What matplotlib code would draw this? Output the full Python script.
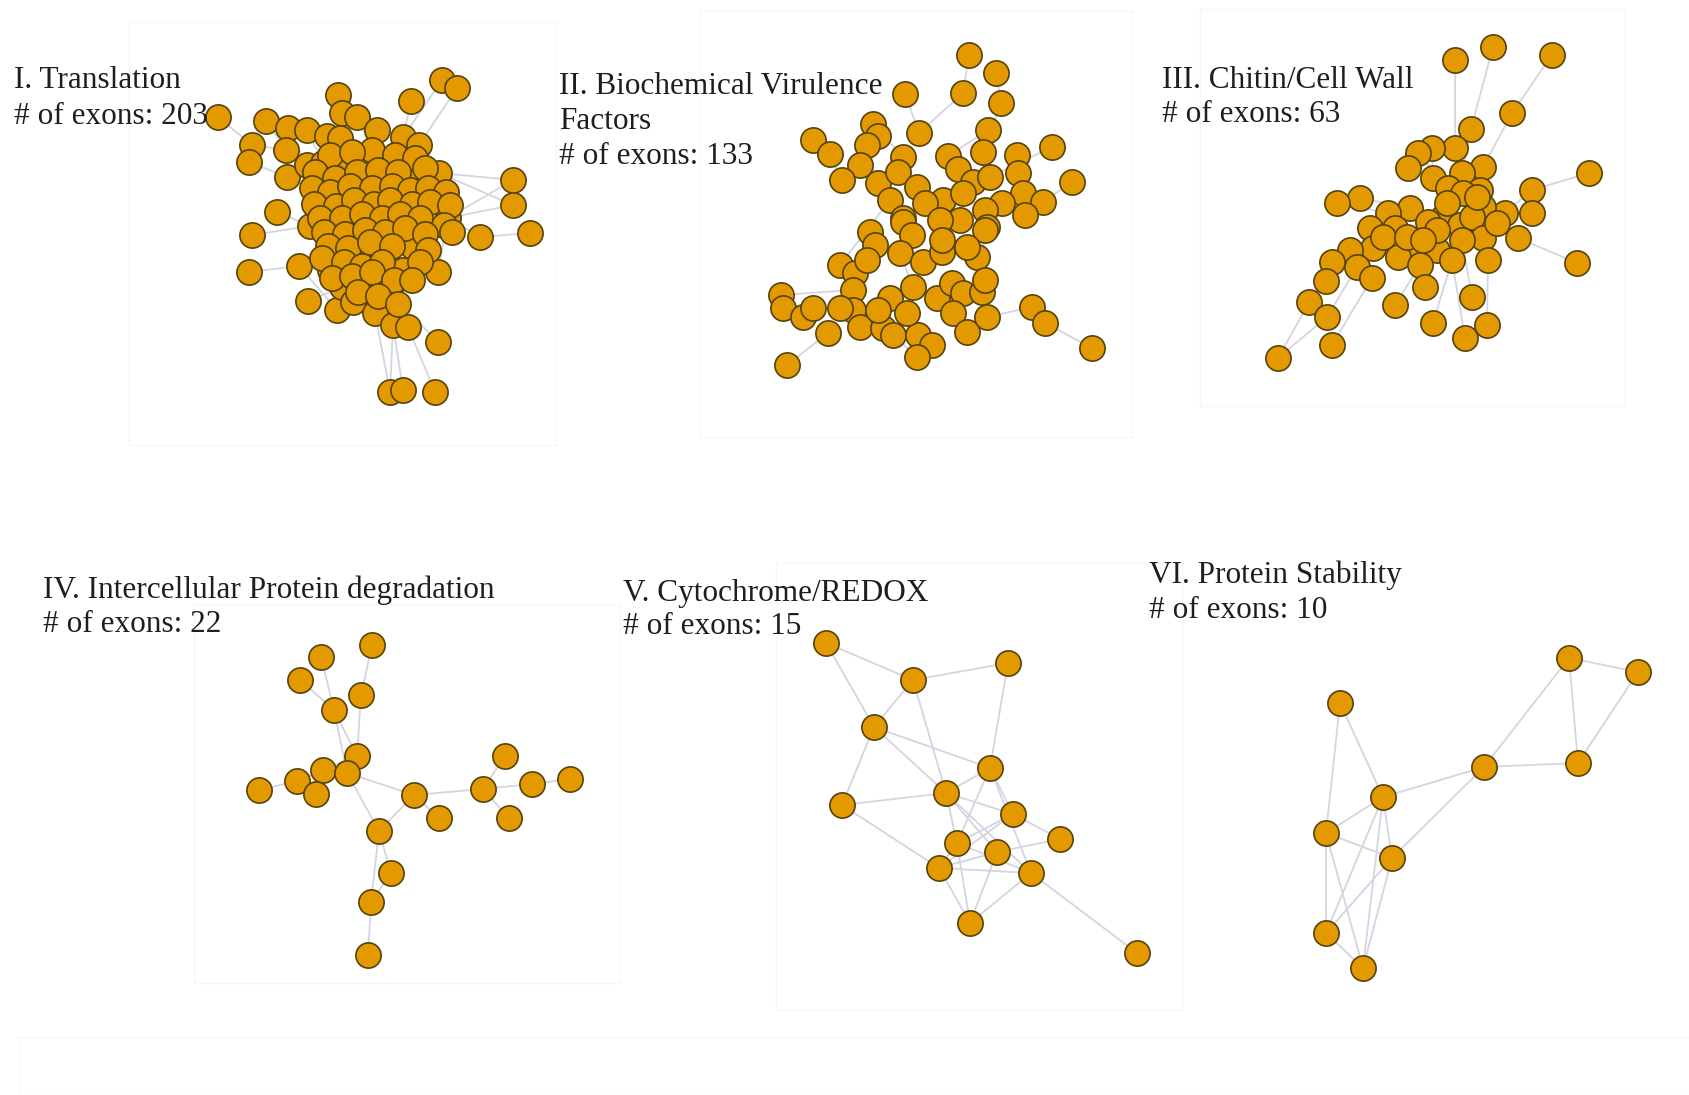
import matplotlib
matplotlib.use("Agg")
import matplotlib.pyplot as plt
from matplotlib.collections import LineCollection
from matplotlib.patches import Rectangle

# ---- panel data (node layout, pixel units) ----
p1_title = ["I. Translation", "# of exons: 203"]
p1_nodes = [
    (218, 117), (266, 121), (252, 145), (249, 162), (288, 128), (307, 130), (327, 136),
    (338, 95), (342, 113), (357, 117), (340, 138), (286, 150), (287, 177), (307, 165),
    (377, 130), (372, 150), (411, 101), (442, 80), (457, 88), (403, 137), (419, 145),
    (439, 173), (417, 178), (513, 180), (513, 205), (448, 218), (480, 237), (530, 233),
    (277, 212), (252, 235), (310, 226), (323, 163), (343, 166), (249, 272), (299, 266),
    (308, 301), (337, 310), (342, 287), (353, 302), (368, 285), (390, 293), (375, 313),
    (393, 325), (408, 327), (438, 272), (438, 342), (390, 392), (403, 390), (435, 392),
    (367, 253), (413, 247), (330, 270), (403, 270),
    # dense core
    (330, 155), (352, 152), (395, 155), (415, 158),
    (315, 172), (335, 178), (357, 172), (378, 170), (398, 172), (425, 168),
    (312, 188), (330, 192), (350, 186), (372, 188), (392, 186), (410, 190), (428, 188), (446, 192),
    (314, 204), (336, 206), (354, 200), (374, 204), (390, 200), (412, 204), (430, 202), (450, 205),
    (320, 218), (342, 218), (362, 214), (382, 218), (400, 214), (420, 218), (444, 225),
    (324, 232), (345, 234), (365, 230), (385, 232), (405, 228), (425, 234), (452, 232),
    (328, 246), (348, 248), (370, 242), (392, 246), (428, 250),
    (322, 258), (344, 262), (362, 266), (382, 262), (420, 262),
    (332, 278), (352, 276), (372, 272), (394, 280), (412, 280),
    (358, 292), (378, 296), (398, 304),
]
p1_edges = [
    (0, 2), (1, 11), (2, 11), (3, 12), (7, 8), (8, 10), (9, 15), (16, 19), (17, 19),
    (18, 20), (23, 21), (24, 21), (23, 25), (24, 25), (27, 26), (26, 25), (28, 30),
    (29, 30), (33, 34), (34, 36), (35, 37), (45, 40), (46, 42), (47, 42), (48, 43),
    (46, 41), (44, 25), (12, 13), (4, 13), (5, 31), (6, 32), (14, 32),
]

p2_title = ["II. Biochemical Virulence", "Factors", "# of exons: 133"]
p2_nodes = [
    (969, 55), (996, 73), (963, 93), (1001, 103), (905, 94), (873, 124), (878, 136),
    (867, 145), (919, 133), (813, 140), (830, 154), (860, 165), (842, 180), (878, 183),
    (903, 157), (898, 172), (988, 130), (983, 152), (1017, 155), (1052, 147), (1072, 182),
    (948, 156), (958, 169), (973, 182), (990, 177), (1018, 173), (1023, 193), (1043, 202),
    (1025, 215), (1002, 203), (917, 187), (890, 200), (943, 200), (925, 203), (963, 193),
    (985, 210), (903, 218), (960, 220), (940, 220), (987, 227), (870, 232), (875, 245),
    (903, 222), (912, 235), (840, 265), (855, 273), (867, 260), (900, 253), (923, 262),
    (942, 252), (942, 240), (977, 257), (985, 230), (967, 247), (913, 287), (890, 298),
    (937, 298), (952, 283), (963, 293), (982, 292), (985, 280), (853, 290), (853, 310),
    (840, 308), (860, 327), (883, 328), (893, 335), (918, 335), (932, 345), (917, 357),
    (953, 313), (967, 332), (987, 317), (878, 310), (907, 313), (781, 295), (783, 308),
    (803, 317), (813, 308), (828, 333), (787, 365), (1032, 307), (1045, 323), (1092, 348),
]
p2_edges = [
    (0, 2), (1, 3), (2, 8), (4, 8), (3, 17), (9, 10), (10, 12), (19, 24), (20, 27),
    (75, 61), (76, 77), (79, 80), (83, 82), (82, 81), (81, 72), (5, 14), (16, 21),
    (44, 31), (54, 47), (66, 69), (58, 70), (35, 59), (11, 30),
]

p3_title = ["III. Chitin/Cell Wall", "# of exons: 63"]
p3_nodes = [
    (1455, 60), (1493, 47), (1552, 55), (1512, 113), (1471, 129), (1455, 148), (1432, 148),
    (1418, 153), (1408, 168), (1483, 167), (1589, 173), (1433, 178), (1462, 173), (1448, 188),
    (1480, 190), (1532, 190), (1532, 213), (1360, 198), (1337, 203), (1505, 213), (1483, 207),
    (1463, 193), (1443, 217), (1410, 208), (1388, 213), (1460, 225), (1472, 217), (1483, 238),
    (1497, 223), (1428, 222), (1395, 228), (1370, 228), (1518, 238), (1462, 240), (1437, 250),
    (1412, 247), (1398, 257), (1373, 248), (1350, 250), (1332, 262), (1452, 260), (1420, 265),
    (1488, 260), (1577, 263), (1357, 267), (1326, 281), (1372, 278), (1425, 287), (1472, 297),
    (1309, 302), (1395, 305), (1327, 317), (1433, 323), (1487, 325), (1465, 338), (1332, 345),
    (1278, 358), (1383, 237), (1477, 197), (1437, 230), (1407, 237), (1447, 203), (1423, 240),
]
p3_edges = [
    (0, 5), (1, 4), (2, 3), (3, 9), (10, 15), (43, 32), (56, 51), (55, 46), (49, 45),
    (50, 41), (52, 40), (53, 42), (54, 40), (48, 33), (17, 23), (18, 24), (4, 12), (6, 11),
    (7, 13), (8, 11), (15, 19), (16, 19), (45, 37), (51, 44), (47, 41), (56, 39),
]

p4_title = ["IV. Intercellular Protein degradation", "# of exons: 22"]
p4_nodes = [
    (372, 645), (321, 657), (300, 680), (361, 695), (334, 710), (357, 756), (323, 770),
    (347, 773), (297, 781), (316, 794), (259, 790), (414, 795), (439, 818), (483, 789),
    (505, 756), (532, 784), (570, 779), (509, 818), (379, 831), (391, 873), (371, 902),
    (368, 955),
]
p4_edges = [
    (0, 3), (3, 5), (1, 4), (2, 4), (4, 5), (4, 7), (5, 6), (5, 7), (6, 8), (8, 9),
    (8, 10), (7, 11), (7, 18), (11, 12), (11, 13), (11, 18), (13, 14), (13, 15), (13, 17),
    (15, 16), (18, 19), (18, 20), (20, 21), (19, 20), (6, 9),
]

p5_title = ["V. Cytochrome/REDOX", "# of exons: 15"]
p5_nodes = [
    (826, 643), (913, 680), (1008, 663), (874, 727), (990, 768), (946, 793), (842, 805),
    (1013, 814), (957, 843), (997, 852), (1060, 839), (939, 868), (1031, 873), (970, 923),
    (1137, 953),
]
p5_edges = [
    (0, 1), (0, 3), (1, 2), (1, 3), (1, 5), (2, 4), (3, 4), (3, 5), (3, 6), (5, 6),
    (6, 11), (4, 5), (4, 8), (4, 12), (4, 7), (5, 7), (5, 8), (5, 9), (5, 12), (7, 10),
    (7, 11), (7, 8), (8, 11), (8, 13), (9, 10), (9, 11), (9, 13), (11, 12), (12, 13),
    (12, 14), (11, 13), (8, 12),
]

p6_title = ["VI. Protein Stability", "# of exons: 10"]
p6_nodes = [
    (1569, 658), (1638, 672), (1340, 703), (1484, 767), (1578, 763), (1383, 797),
    (1326, 833), (1392, 858), (1326, 933), (1363, 968),
]
p6_edges = [
    (0, 1), (0, 3), (0, 4), (1, 4), (3, 4), (3, 5), (3, 7), (2, 5), (2, 6), (5, 6),
    (5, 8), (5, 9), (5, 7), (6, 7), (6, 8), (6, 9), (7, 8), (7, 9), (8, 9),
]

# title anchor (left x, first line centre y, line step)
title_pos = [(14, 81, 35), (559, 86, 35.5), (1162, 80, 34),
             (43, 590, 35), (623, 593, 34), (1149, 575, 36)]
# faint frames around panels (x0, y0, x1, y1)
frames = [(129, 22, 556, 445), (700, 11, 1132, 437), (1200, 9, 1625, 406),
          (194, 604, 620, 983), (776, 563, 1182, 1010), (19, 1037, 1690, 1095)]

panels = [
    (p1_title, p1_nodes, p1_edges),
    (p2_title, p2_nodes, p2_edges),
    (p3_title, p3_nodes, p3_edges),
    (p4_title, p4_nodes, p4_edges),
    (p5_title, p5_nodes, p5_edges),
    (p6_title, p6_nodes, p6_edges),
]

node_color = "#E39A00"
node_edge = "#55420E"
link_color = "#D4D4E2"

fig = plt.figure(figsize=(16.9, 10.95), dpi=100)
ax = fig.add_axes([0, 0, 1, 1])
ax.set_xlim(0, 1690)
ax.set_ylim(1095, 0)
ax.axis("off")

for x0, y0, x1, y1 in frames:
    ax.add_patch(Rectangle((x0, y0), x1 - x0, y1 - y0, fill=False,
                           edgecolor="#F6F6F6", lw=1.0, zorder=0))

for (title, nodes, edges), (tx, ty, step) in zip(panels, title_pos):
    segs = [[nodes[a], nodes[b]] for a, b in edges]
    ax.add_collection(LineCollection(segs, colors=link_color, linewidths=1.3, zorder=1))
    xs = [n[0] for n in nodes]
    ys = [n[1] for n in nodes]
    ax.scatter(xs, ys, s=330, c=node_color, edgecolors=node_edge, linewidths=1.2, zorder=2)
    for i, line in enumerate(title):
        ax.text(tx, ty + i * step, line, ha="left", va="center", fontsize=22.5,
                family="Liberation Serif", color="#1E1E1E", zorder=3)

fig.savefig("out.png", dpi=100)
